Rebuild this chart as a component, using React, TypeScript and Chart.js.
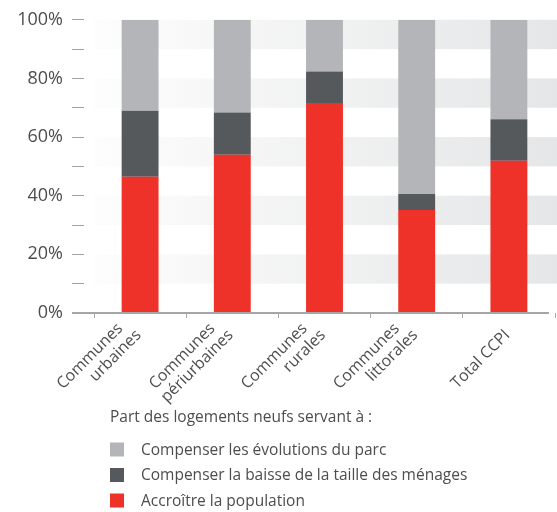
import { useEffect, useRef } from 'react';
import { Chart, registerables } from 'chart.js';

Chart.register(...registerables);

// Two-line category labels; the first line carries a little trailing space so the
// second line overhangs it, as in the original layout.
const categories: (string | string[])[] = [
  ['Communes  ', 'urbaines'],
  ['Communes  ', 'périurbaines'],
  ['Communes  ', 'rurales'],
  ['Communes  ', 'littorales'],
  ['', 'Total CCPI'],
];
const populationValues = [46.5, 54.0, 71.6, 35.1, 51.9];
const menagesValues = [22.5, 14.4, 10.8, 5.5, 14.2];
const parcValues = [31.0, 31.6, 17.6, 59.4, 33.9];
const seriesLabels = [
  'Accroître la population',
  'Compenser la baisse de la taille des ménages',
  'Compenser les évolutions du parc',
];
const seriesColors = ['#ee3129', '#56595c', '#b3b5b8'];
const legendTitle = 'Part des logements neufs servant à :';

const FONT = '"Open Sans", sans-serif';

const decorPlugin = {
  id: 'decor',
  beforeDatasetsDraw(chart: any) {
    const { ctx, chartArea } = chart;
    const y = chart.scales.y;
    ctx.save();
    const grad = ctx.createLinearGradient(chartArea.left, 0, chartArea.right, 0);
    grad.addColorStop(0, '#fdfdfd');
    grad.addColorStop(1, '#e5e6e7');
    ctx.fillStyle = grad;
    for (let i = 1; i < 10; i += 2) {
      const yTop = y.getPixelForValue((i + 1) * 10);
      const yBot = y.getPixelForValue(i * 10);
      ctx.fillRect(chartArea.left, yTop, chartArea.right - chartArea.left + 2, yBot - yTop);
    }
    ctx.restore();
  },
  afterDraw(chart: any) {
    const { ctx, chartArea } = chart;
    ctx.save();
    // x axis line
    ctx.strokeStyle = '#a4a6a9';
    ctx.lineWidth = 2;
    ctx.beginPath();
    ctx.moveTo(chartArea.left - 22, chartArea.bottom);
    ctx.lineTo(chartArea.right - 6, chartArea.bottom);
    ctx.stroke();

    // legend
    const x0 = chartArea.left + 16;
    ctx.font = `15.5px ${FONT}`;
    ctx.fillStyle = '#4d4d4f';
    ctx.textAlign = 'left';
    ctx.textBaseline = 'alphabetic';
    ctx.fillText(legendTitle, x0, 422);
    const items = chart.data.datasets.slice().reverse();
    items.forEach((ds: any, i: number) => {
      const cy = 449.5 + i * 25.5;
      ctx.fillStyle = ds.backgroundColor;
      ctx.fillRect(x0, cy - 7, 14, 14);
      ctx.fillStyle = '#4d4d4f';
      ctx.textBaseline = 'middle';
      ctx.fillText(ds.label, x0 + 31, cy + 1);
    });
    ctx.restore();
  },
};

export default function App() {
  const ref = useRef<HTMLCanvasElement | null>(null);
  useEffect(() => {
    if (!ref.current) return;
    const values = [populationValues, menagesValues, parcValues];
    const chart = new Chart(ref.current, {
      type: 'bar',
      data: {
        labels: categories,
        datasets: values.map((v, i) => ({
          label: seriesLabels[i],
          data: v,
          backgroundColor: seriesColors[i],
          borderWidth: 0,
          barPercentage: 0.4,
          categoryPercentage: 1,
        })),
      },
      options: {
        responsive: false,
        animation: false,
        maintainAspectRatio: false,
        layout: { padding: { top: 17, right: 2, bottom: 0, left: 0 } },
        plugins: {
          legend: { display: false },
          tooltip: { enabled: false },
        },
        scales: {
          x: {
            stacked: true,
            afterFit: (s: any) => { s.height = 199; },
            border: { display: false },
            grid: {
              offset: true,
              drawOnChartArea: false,
              drawTicks: true,
              tickLength: 5,
              tickColor: '#a4a6a9',
              lineWidth: 1,
            },
            ticks: {
              maxRotation: 45,
              minRotation: 45,
              padding: -4,
              labelOffset: -14,
              color: '#4d4d4f',
              font: { family: FONT, size: 16, lineHeight: 1.1 },
            },
          },
          y: {
            stacked: true,
            min: 0,
            max: 100,
            afterFit: (s: any) => { s.width = 94; },
            border: { display: false },
            grid: {
              drawOnChartArea: false,
              drawTicks: true,
              tickLength: 22,
              tickColor: '#a0a2a5',
              tickBorderDash: [12, 200],
              lineWidth: 1,
            },
            ticks: {
              stepSize: 10,
              padding: 9,
              color: '#4d4d4f',
              font: { family: FONT, size: 18 },
              callback: (v: any) => (Number(v) % 20 === 0 ? `${v}%` : ''),
            },
          },
        },
      },
      plugins: [decorPlugin],
    });
    return () => chart.destroy();
  }, []);
  return (
    <div style={{ position: 'absolute', left: 0, top: 0, width: 557, height: 512 }}>
      <canvas ref={ref} width={557} height={512} />
    </div>
  );
}
